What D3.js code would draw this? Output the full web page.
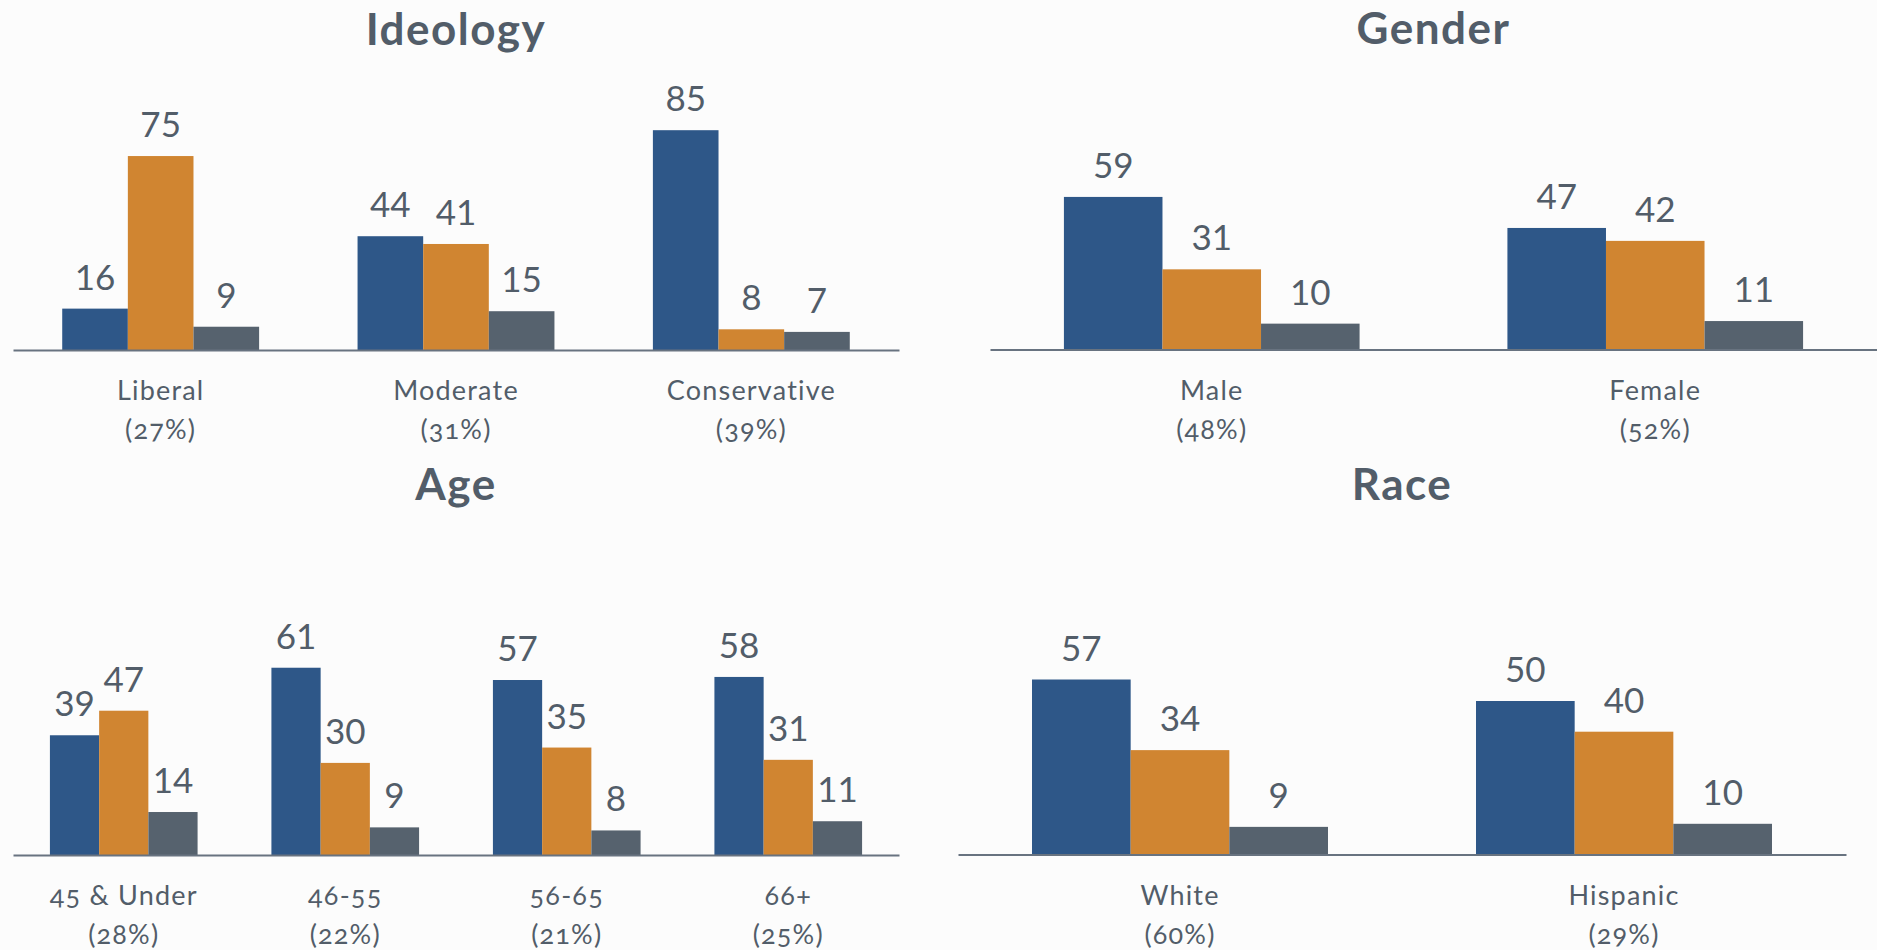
<!DOCTYPE html>
<html>
<head>
<meta charset="utf-8">
<script src="https://cdn.jsdelivr.net/npm/d3@7"></script>
<style>
  html, body { margin: 0; padding: 0; background: #fcfcfc; }
  svg { display: block; }
  text { font-family: Lato, "Open Sans", sans-serif; }
  .cat { font-variant-numeric: oldstyle-nums; font-feature-settings: "onum" 1; }
</style>
</head>
<body>
<svg id="chart" width="1877" height="950"></svg>
<script>
// ---- Data ----
const seriesKeys = ["blue", "orange", "gray"];

const ideologyCategories = ["Liberal", "Moderate", "Conservative"];
const ideologyShares = ["(27%)", "(31%)", "(39%)"];
const ideologyBlue = [16, 44, 85];
const ideologyOrange = [75, 41, 8];
const ideologyGray = [9, 15, 7];

const genderCategories = ["Male", "Female"];
const genderShares = ["(48%)", "(52%)"];
const genderBlue = [59, 47];
const genderOrange = [31, 42];
const genderGray = [10, 11];

const ageCategories = ["45 & Under", "46-55", "56-65", "66+"];
const ageShares = ["(28%)", "(22%)", "(21%)", "(25%)"];
const ageBlue = [39, 61, 57, 58];
const ageOrange = [47, 30, 35, 31];
const ageGray = [14, 9, 8, 11];

const raceCategories = ["White", "Hispanic"];
const raceShares = ["(60%)", "(29%)"];
const raceBlue = [57, 50];
const raceOrange = [34, 40];
const raceGray = [9, 10];

// ---- Styles ----
const colors = { blue: "#2e5788", orange: "#d08531", gray: "#56626e" };
const textColor = "#525d69";
const axisColor = "#687380";

const svg = d3.select("#chart");

function panel(opts) {
  const { title, categories, shares, blue, orange, gray, x0, x1, axisY, pxPerUnit, titleY } = opts;
  const g = svg.append("g");
  const x = d3.scaleBand().domain(categories).range([x0, x1])
    .paddingInner(1 / 3).paddingOuter(1 / 6);
  const xi = d3.scaleBand().domain(seriesKeys).range([0, x.bandwidth()]);
  const y = d3.scaleLinear().domain([0, 100]).range([axisY, axisY - 100 * pxPerUnit]);

  const rows = categories.map((c, i) => ({
    cat: c, share: shares[i],
    vals: [{ k: "blue", v: blue[i] }, { k: "orange", v: orange[i] }, { k: "gray", v: gray[i] }]
  }));

  const grp = g.selectAll("g.grp").data(rows).join("g")
    .attr("transform", d => `translate(${x(d.cat)},0)`);

  grp.selectAll("rect").data(d => d.vals).join("rect")
    .attr("x", d => xi(d.k))
    .attr("width", xi.bandwidth())
    .attr("y", d => y(d.v))
    .attr("height", d => y(0) - y(d.v))
    .attr("fill", d => colors[d.k]);

  grp.selectAll("text.val").data(d => d.vals).join("text")
    .attr("class", "val")
    .attr("x", d => xi(d.k) + xi.bandwidth() / 2)
    .attr("y", d => y(d.v) - 19)
    .attr("text-anchor", "middle")
    .attr("font-size", 35)
    .attr("fill", textColor)
    .text(d => d.v);

  const axis = d3.axisBottom(x).tickSize(0).tickPadding(0);
  const ax = g.append("g").attr("transform", `translate(0,${axisY})`).call(axis);
  ax.select(".domain").attr("stroke", axisColor).attr("stroke-width", 2);
  ax.selectAll(".tick text").each(function (d, i) {
    const t = d3.select(this);
    t.text(null).attr("dy", null).attr("y", 0)
      .attr("class", "cat")
      .attr("font-size", 27).attr("fill", textColor)
      .attr("letter-spacing", 1.2)
      .attr("font-family", "Lato, 'Open Sans', sans-serif");
    t.append("tspan").attr("x", 0).attr("y", 50).text(d);
    t.append("tspan").attr("x", 0).attr("y", 89).text(shares[i]);
  });

  g.append("text")
    .attr("x", (x0 + x1) / 2)
    .attr("y", titleY)
    .attr("text-anchor", "middle")
    .attr("font-size", 44)
    .attr("letter-spacing", 1.5)
    .attr("font-weight", "bold")
    .attr("fill", textColor)
    .text(title);
}

panel({ title: "Ideology", categories: ideologyCategories, shares: ideologyShares,
  blue: ideologyBlue, orange: ideologyOrange, gray: ideologyGray,
  x0: 13, x1: 899, axisY: 350, pxPerUnit: 2.586, titleY: 45 });
panel({ title: "Gender", categories: genderCategories, shares: genderShares,
  blue: genderBlue, orange: genderOrange, gray: genderGray,
  x0: 990, x1: 1877, axisY: 349.5, pxPerUnit: 2.586, titleY: 44 });
panel({ title: "Age", categories: ageCategories, shares: ageShares,
  blue: ageBlue, orange: ageOrange, gray: ageGray,
  x0: 13, x1: 899, axisY: 855, pxPerUnit: 3.07, titleY: 500 });
panel({ title: "Race", categories: raceCategories, shares: raceShares,
  blue: raceBlue, orange: raceOrange, gray: raceGray,
  x0: 958, x1: 1846, axisY: 854.5, pxPerUnit: 3.07, titleY: 500 });
</script>
</body>
</html>
